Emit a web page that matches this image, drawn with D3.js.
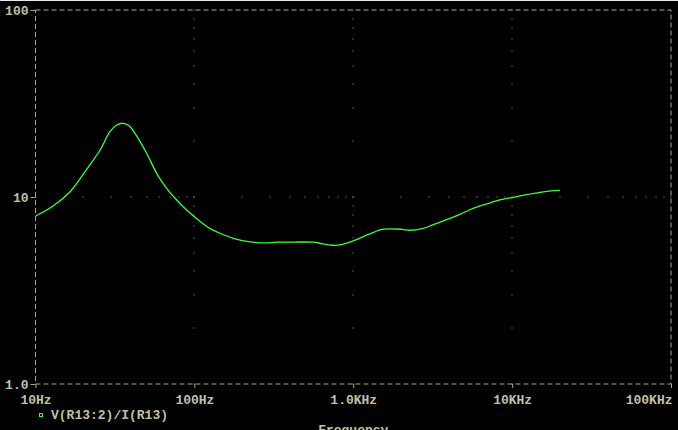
<!DOCTYPE html>
<html>
<head>
<meta charset="utf-8">
<script src="https://cdn.jsdelivr.net/npm/d3@7"></script>
<style>
  html, body { margin: 0; padding: 0; background: #000; overflow: hidden; }
  svg { display: block; }
</style>
</head>
<body>
<svg id="chart" width="678" height="430"></svg>
<script>
// ---- data ----
const freqs = [10, 12.9, 16.5, 21.0, 25.5, 29.4, 32.4, 35.7, 39.0, 42.3, 50.1, 57.9, 66.9, 77.4, 89.4,
  108, 125, 145, 176, 224, 285, 330, 420, 560, 647, 748, 845, 953, 1100, 1340, 1510, 2020,
  2270, 2760, 3190, 3870, 4690, 5690, 6910, 8380, 10200, 12300, 15000, 18100, 20000];
const values = [7.91, 8.95, 10.67, 14.06, 17.84, 22.35, 24.27, 24.78, 24.0, 21.9, 17.13, 13.38, 11.13, 9.64, 8.52,
  7.44, 6.80, 6.40, 6.01, 5.75, 5.68, 5.73, 5.74, 5.73, 5.61, 5.52, 5.56, 5.73, 6.03, 6.47, 6.72, 6.72,
  6.64, 6.80, 7.11, 7.56, 8.08, 8.70, 9.18, 9.64, 9.96, 10.29, 10.60, 10.81, 10.86];
const xTickValues = [10, 100, 1000, 10000, 100000];
const xTickLabels = ["10Hz", "100Hz", "1.0KHz", "10KHz", "100KHz"];
const yTickValues = [1, 10, 100];
const yTickLabels = ["1.0", "10", "100"];
const traceName = "V(R13:2)/I(R13)";
const xTitle = "Frequency";

// ---- layout ----
const X0 = 35.5, X1 = 671, Y0 = 10, Y1 = 384;
const axisColor = "#a8a890";
const textColor = "#c0c0a8";
const traceColor = "#3cff3c";
const font = "'Liberation Mono', 'DejaVu Sans Mono', monospace";

const svg = d3.select("#chart");
svg.append("rect").attr("width", 678).attr("height", 430).attr("fill", "#000");
svg.append("line").attr("x1", 0).attr("x2", 678).attr("y1", 0.5).attr("y2", 0.5)
  .attr("stroke", "#e8e8e8").attr("stroke-width", 1);

const x = d3.scaleLog().domain([10, 100000]).range([X0, X1]);
const y = d3.scaleLog().domain([1, 100]).range([Y1, Y0]);

// ---- dotted grid: major lines drawn as dots at minor positions ----
const minorX = [];
for (let d = 10; d < 100000; d *= 10) for (let k = 1; k <= 9; k++) minorX.push(d * k);
minorX.push(100000);
const minorY = [];
for (let d = 1; d < 100; d *= 10) for (let k = 1; k <= 9; k++) minorY.push(d * k);
minorY.push(100);

const dots = svg.append("g");
const innerMajorX = xTickValues.filter(v => v > 10 && v < 100000);
const innerMajorY = yTickValues.filter(v => v > 1 && v < 100);
innerMajorX.forEach(fx => {
  minorY.forEach(vy => {
    dots.append("rect").attr("x", Math.round(x(fx)) - 0.5).attr("y", Math.round(y(vy)) - 0.5)
      .attr("width", 1).attr("height", 1).attr("fill", axisColor);
  });
});
innerMajorY.forEach(vy => {
  minorX.forEach(fx => {
    dots.append("rect").attr("x", Math.round(x(fx)) - 0.5).attr("y", Math.round(y(vy)) - 0.5)
      .attr("width", 1).attr("height", 1).attr("fill", axisColor);
  });
});

// ---- dashed frame ----
svg.append("rect").attr("x", X0).attr("y", Y0).attr("width", X1 - X0).attr("height", Y1 - Y0)
  .attr("fill", "none").attr("stroke", axisColor).attr("stroke-width", 1)
  .attr("stroke-dasharray", "5,3");

// ---- axes ----
const xAxis = d3.axisBottom(x).tickValues(xTickValues)
  .tickFormat((d, i) => xTickLabels[i]).tickSize(4).tickPadding(6);
const gx = svg.append("g").attr("transform", `translate(0,${Y1})`).call(xAxis);
gx.select(".domain").remove();
gx.selectAll("line").attr("stroke", axisColor);
gx.selectAll("text").attr("fill", textColor).attr("font-family", font)
  .attr("font-weight", "bold").attr("font-size", 13).attr("y", 20).attr("dy", null)
  .attr("text-anchor", (d, i) => i === xTickValues.length - 1 ? "end" : "middle")
  .attr("dx", (d, i) => i === xTickValues.length - 1 ? 1 : 0);

const yAxis = d3.axisLeft(y).tickValues(yTickValues)
  .tickFormat((d, i) => yTickLabels[i]).tickSize(5).tickPadding(2);
const gy = svg.append("g").attr("transform", `translate(${X0},0)`).call(yAxis);
gy.select(".domain").remove();
gy.selectAll("line").attr("stroke", axisColor);
gy.selectAll("text").attr("fill", textColor).attr("font-family", font)
  .attr("font-weight", "bold").attr("font-size", 13).attr("dy", "0.36em");

svg.selectAll("g").attr("font-family", font);

// ---- trace ----
svg.append("clipPath").attr("id", "plotclip").append("rect")
  .attr("x", X0).attr("y", Y0).attr("width", X1 - X0).attr("height", Y1 - Y0);
const pts = freqs.map((f, i) => [f, values[i]]);
const line = d3.line().x(d => x(d[0])).y(d => y(d[1])).curve(d3.curveCatmullRom.alpha(0.5));
svg.append("path").datum(pts).attr("d", line).attr("fill", "none")
  .attr("stroke", traceColor).attr("stroke-width", 1.3).attr("clip-path", "url(#plotclip)");

// ---- legend ----
svg.append("rect").attr("x", 39.5).attr("y", 413.5).attr("width", 3).attr("height", 3)
  .attr("fill", "none").attr("stroke", traceColor).attr("stroke-width", 1);
svg.append("text").attr("x", 51).attr("y", 419).text(traceName)
  .attr("fill", textColor).attr("font-family", font).attr("font-weight", "bold").attr("font-size", 13);

// ---- x title (partly below the window edge, as in the reference) ----
svg.append("text").attr("x", x(1000)).attr("y", 434).attr("text-anchor", "middle").text(xTitle)
  .attr("fill", textColor).attr("font-family", font).attr("font-weight", "bold").attr("font-size", 13);
</script>
</body>
</html>
